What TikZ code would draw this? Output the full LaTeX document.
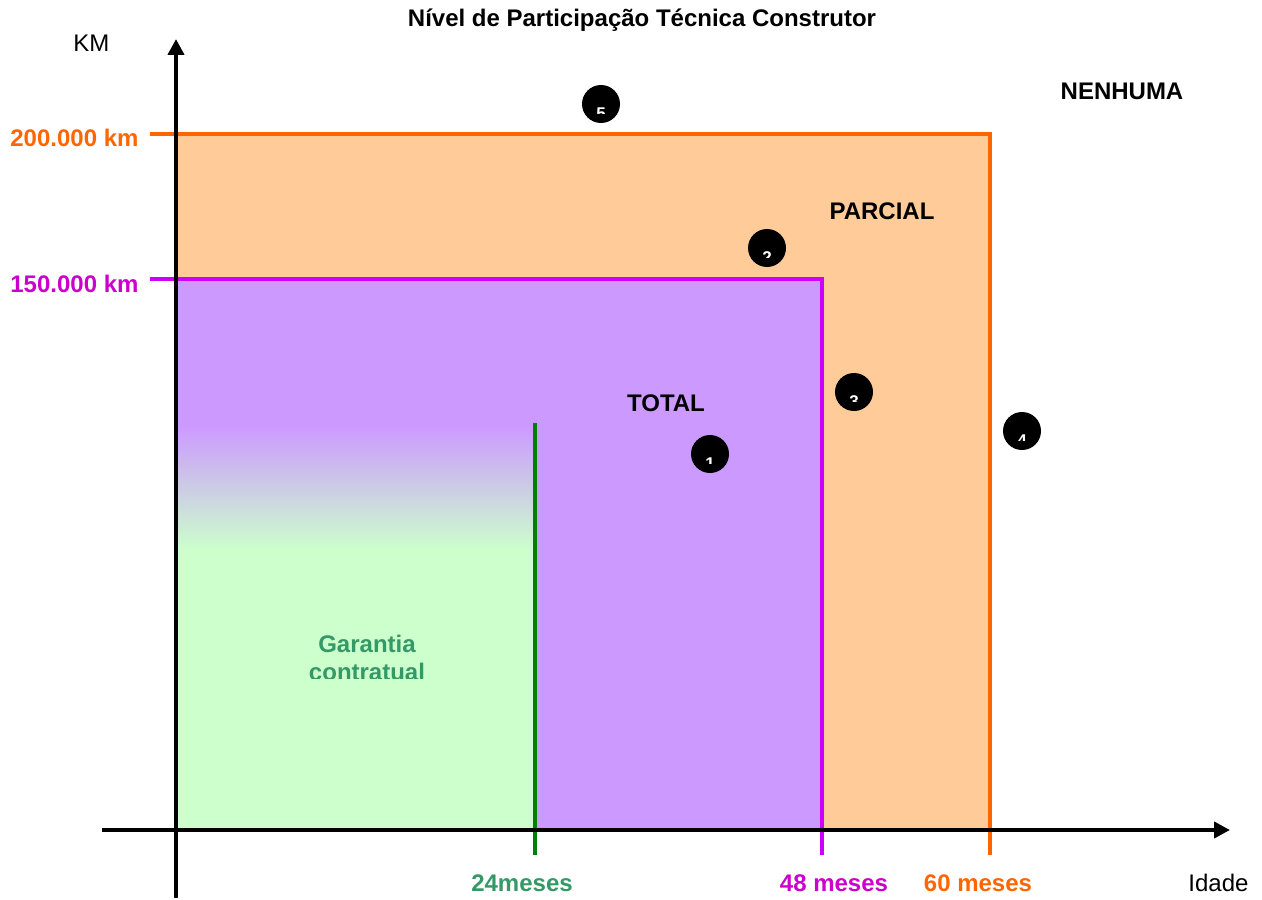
\documentclass[tikz,border=0pt]{standalone}
\usepackage{xcolor}
\usepackage{fontspec}
\setmainfont{Liberation Sans}
\usepackage{tikz}
\usetikzlibrary{arrows.meta}
\definecolor{orangeline}{HTML}{FF6600}
\definecolor{peach}{HTML}{FFCC99}
\definecolor{lilac}{HTML}{CC99FF}
\definecolor{violetline}{HTML}{CC00FF}
\definecolor{magentatext}{HTML}{CC00CC}
\definecolor{mint}{HTML}{CCFFCC}
\definecolor{darkgreen}{HTML}{008000}
\definecolor{seagreen}{HTML}{339966}
\tikzstyle{axis} = [draw, line width=2pt, -{Triangle[length=8pt,width=8pt]}]
\tikzstyle{limit} = [draw, line width=1.6pt]
\tikzstyle{axistext} = [inner sep=0pt, font=\fontsize{12}{14}\selectfont]
\tikzstyle{zonetext} = [inner sep=0pt, font=\bfseries\fontsize{12}{14}\selectfont]
\tikzstyle{marker} = [circle, fill=black, minimum size=19pt, inner sep=0pt]
\tikzstyle{digit} = [text=white, anchor=north, inner sep=0pt, font=\bfseries\fontsize{8.5}{9}\selectfont]
% white number, cut off low in the black disc
\newcommand{\markdigit}[3]{%
  \begin{scope}
    \clip ([xshift=-10pt,yshift=10pt]#1.center) rectangle ([xshift=10pt,yshift=-4.75pt]#1.center);
    \node[digit] (#2) at ([yshift=-1.6pt]#1.center) {#3};
  \end{scope}}

\begin{document}
\begin{tikzpicture}[x=0.5pt, y=-0.5pt]
    \useasboundingbox (0,0) rectangle (1262,899);
    % Fill zones
    \fill[peach] (176,134) rectangle (990,830);
    \fill[lilac] (176,279) rectangle (822,830);
    \shade[top color=lilac, bottom color=mint] (176,425) rectangle (535,550);
    \fill[mint] (176,550) rectangle (535,830);

    % Draw limits
    \path[limit, orangeline] (150,134) -| (990,855);
    \path[limit, violetline] (150,279) -| (822,855);
    \path[limit, darkgreen, line width=2pt] (535,423) -- (535,855);

    % Draw axes
    \path[axis] (176,898) -- (176,39);
    \path[axis] (102,830) -- (1230,830);

    % Place nodes
    \node[zonetext, anchor=base] (title) at (642,27) {Nível de Participação Técnica Construtor};
    \node[axistext, anchor=base west] (km) at (73,52) {KM};
    \node[axistext, anchor=base west] (idade) at (1188,891) {Idade};
    \node[zonetext, text=orangeline, anchor=base west] (km200) at (10,147) {200.000 km};
    \node[zonetext, text=magentatext, anchor=base west] (km150) at (10,292) {150.000 km};
    \node[zonetext, text=seagreen, anchor=base] (m24) at (522,891) {24meses};
    \node[zonetext, text=magentatext, anchor=base] (m48) at (834,891) {48 meses};
    \node[zonetext, text=orangeline, anchor=base] (m60) at (978,891) {60 meses};
    \node[zonetext, anchor=base] (nenhuma) at (1122,99) {NENHUMA};
    \node[zonetext, anchor=base] (parcial) at (882,219) {PARCIAL};
    \node[zonetext, anchor=base] (total) at (666,411) {TOTAL};
    \begin{scope}
      \clip (176,600) rectangle (535,678);
      \node[zonetext, text=seagreen, anchor=base] (garantia) at (367,652) {Garantia};
      \node[zonetext, text=seagreen, anchor=base] (contratual) at (367,680) {contratual};
    \end{scope}

    % Place markers
    \node[marker] (c1) at (710,454) {};
    \node[marker] (c2) at (767,248) {};
    \node[marker] (c3) at (854,392) {};
    \node[marker] (c4) at (1022,431) {};
    \node[marker] (c5) at (601,104) {};
    \markdigit{c1}{d1}{1}
    \markdigit{c2}{d2}{2}
    \markdigit{c3}{d3}{3}
    \markdigit{c4}{d4}{4}
    \markdigit{c5}{d5}{5}
\end{tikzpicture}
\end{document}
